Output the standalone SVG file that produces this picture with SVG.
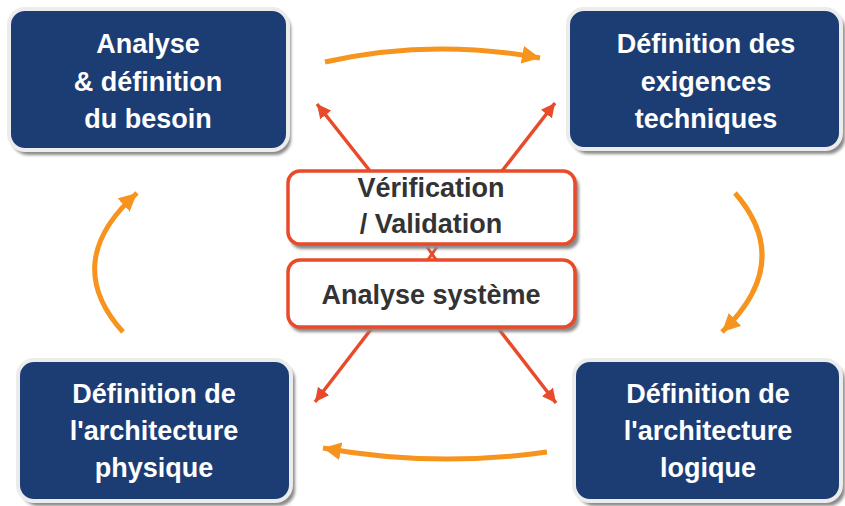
<svg xmlns="http://www.w3.org/2000/svg" width="845" height="506" viewBox="0 0 845 506">
<style>
.blue{fill:#1C3D74;stroke:#ECECEC;stroke-width:4}
.shadow{fill:#8A8A8A;filter:url(#blur)}
.wt{font-family:"Liberation Sans",Arial,sans-serif;font-weight:bold;font-size:27px;fill:#FFFFFF;text-anchor:middle}
.ct{font-family:"Liberation Sans",Arial,sans-serif;font-weight:bold;font-size:27px;fill:#333333;text-anchor:middle}
.redbox{fill:#FFFFFF;stroke:#E84A2A;stroke-width:3.5}
.orange{fill:none;stroke:#F7941E;stroke-width:5;marker-end:url(#ao)}
.red{fill:none;stroke:#E84A2A;stroke-width:3.5;marker-end:url(#ar)}
</style>
<defs>
<filter id="blur" x="-10%" y="-10%" width="120%" height="130%"><feGaussianBlur stdDeviation="1.5"/></filter>
<marker id="ao" markerUnits="userSpaceOnUse" markerWidth="20" markerHeight="18" refX="18" refY="9" orient="auto" viewBox="0 0 20 18"><path d="M0,0 L18,9 L0,18 Z" fill="#F7941E"/></marker>
<marker id="ar" markerUnits="userSpaceOnUse" markerWidth="16" markerHeight="14" refX="14" refY="7" orient="auto" viewBox="0 0 16 14"><path d="M0,0 L14,7 L0,14 Z" fill="#E84A2A"/></marker>
</defs>
<rect width="845" height="506" fill="#FFFFFF"/>
<g id="connectors">
<path class="orange" d="M325,62 Q430,38 540,58"/>
<path class="orange" d="M735,193 Q795,262 722,332"/>
<path class="orange" d="M547,452 Q435,468 323,448"/>
<path class="orange" d="M123,332 Q60,262 137,193"/>
<path class="red" d="M370,171 L317,104"/>
<path class="red" d="M502,171 L555,103"/>
<path class="red" d="M372,328 L315,402"/>
<path class="red" d="M498,328 L556,403"/>
<path d="M427,247 L437,261 M437,247 L427,261" stroke="#E84A2A" stroke-width="3" fill="none"/>
</g>
<g id="n1">
<rect class="shadow" x="12" y="13" width="279" height="142" rx="16"/>
<rect class="blue" x="9" y="9" width="279" height="141" rx="16"/>
<text class="wt" x="148" y="53">Analyse</text>
<text class="wt" x="148" y="91">&amp; définition</text>
<text class="wt" x="148" y="128">du besoin</text>
</g>
<g id="n2">
<rect class="shadow" x="572" y="13" width="273" height="141" rx="16"/>
<rect class="blue" x="568" y="9" width="273" height="140" rx="16"/>
<text class="wt" x="706" y="53">Définition des</text>
<text class="wt" x="706" y="91">exigences</text>
<text class="wt" x="706" y="128">techniques</text>
</g>
<g id="n3">
<rect class="shadow" x="22" y="364" width="273" height="142" rx="16"/>
<rect class="blue" x="18" y="360" width="273" height="141" rx="16"/>
<text class="wt" x="154" y="403">Définition de</text>
<text class="wt" x="154" y="440">l'architecture</text>
<text class="wt" x="154" y="477">physique</text>
</g>
<g id="n4">
<rect class="shadow" x="578" y="364" width="267" height="142" rx="16"/>
<rect class="blue" x="574" y="360" width="267" height="141" rx="16"/>
<text class="wt" x="708" y="403">Définition de</text>
<text class="wt" x="708" y="440">l'architecture</text>
<text class="wt" x="708" y="477">logique</text>
</g>
<g id="n5">
<rect class="shadow" x="290" y="175" width="289" height="74" rx="12"/>
<rect class="redbox" x="288" y="171" width="287" height="73" rx="12"/>
<text class="ct" x="431" y="197">Vérification</text>
<text class="ct" x="431" y="233">/ Validation</text>
</g>
<g id="n6">
<rect class="shadow" x="290" y="264" width="289" height="68" rx="12"/>
<rect class="redbox" x="288" y="260" width="287" height="67" rx="12"/>
<text class="ct" x="431" y="304">Analyse système</text>
</g>
</svg>
